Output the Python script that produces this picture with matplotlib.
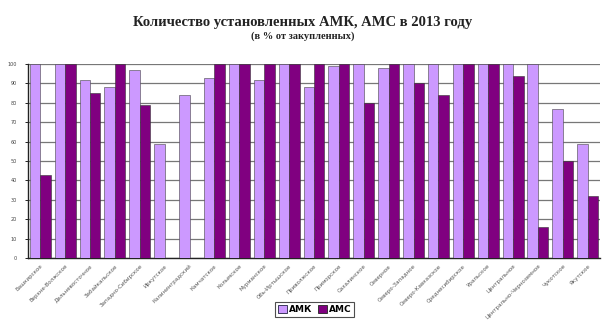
import numpy as np
import matplotlib
matplotlib.use("Agg")
import matplotlib.pyplot as plt
from matplotlib.patches import Patch

regions = ["Башкирское", "Верхне-Волжское", "Дальневосточное", "Забайкальское",
           "Западно-Сибирское", "Иркутское", "Калининградский", "Камчатское",
           "Колымское", "Мурманское", "Обь-Иртышское", "Приволжское", "Приморское",
           "Сахалинское", "Северное", "Северо-Западное", "Северо-Кавказское",
           "Среднесибирское", "Уральское", "Центральное", "Центрально-Черноземное",
           "Чукотское", "Якутское"]
amk = [100, 100, 92, 88, 97, 59, 84, 93, 100, 92, 100, 88, 99, 100, 98, 100,
       100, 100, 100, 100, 100, 77, 59]
ams = [43, 100, 85, 100, 79, 0, 0, 100, 100, 100, 100, 100, 100, 80, 100, 90,
       84, 100, 100, 94, 16, 50, 32]
yticks = [0, 10, 20, 30, 40, 50, 60, 70, 80, 90, 100]

light = "#CC99FF"
dark = "#800080"

fig = plt.figure(figsize=(6.05, 3.2), dpi=100)
ax = fig.add_axes([0.046, 0.194, 0.946, 0.606])

x = np.arange(len(regions))
w = 0.42
ax.bar(x - w / 2, amk, w, color=light, edgecolor="#444444", linewidth=0.4, zorder=3)
ax.bar(x + w / 2, ams, w, color=dark, edgecolor="#333333", linewidth=0.4, zorder=3)

ax.set_xlim(-0.5, len(regions) - 0.5)
ax.set_ylim(0, 100)
ax.set_yticks(yticks)
ax.set_yticklabels([str(v) for v in yticks], fontsize=3.5, color="#444444")
ax.yaxis.grid(True, color="#777777", linewidth=0.9, zorder=0)
ax.set_axisbelow(True)

ax.set_xticks(x)
ax.set_xticklabels(regions, rotation=45, ha="right", rotation_mode="anchor",
                   fontsize=4, color="#555555", family="DejaVu Sans")
ax.tick_params(axis="x", length=0, pad=4)
ax.tick_params(axis="y", length=2, width=0.6, pad=6)

for s in ["top", "right"]:
    ax.spines[s].set_visible(False)
ax.spines["left"].set_color("#222222")
ax.spines["bottom"].set_color("#222222")
ax.spines["left"].set_linewidth(1.0)
ax.spines["bottom"].set_linewidth(1.0)

fig.text(0.5, 0.93, "Количество установленных АМК, АМС в 2013 году",
         ha="center", va="center", fontsize=10.5, fontweight="bold",
         family="Liberation Serif", color="#222222")
fig.text(0.5, 0.888, "(в % от закупленных)", ha="center", va="center",
         fontsize=7.5, fontweight="bold", family="Liberation Serif", color="#222222")

handles = [Patch(facecolor=light, edgecolor="#222244", linewidth=0.6, label="АМК"),
           Patch(facecolor=dark, edgecolor="#222222", linewidth=0.6, label="АМС")]
leg = fig.legend(handles=handles, loc="center", bbox_to_anchor=(0.52, 0.032),
                 ncol=2, frameon=True, fancybox=False,
                 handlelength=1.0, handleheight=1.0, handletextpad=0.25,
                 columnspacing=0.6, borderpad=0.3, prop={"weight": "bold", "size": 6.5})
leg.get_frame().set_edgecolor("#222222")
leg.get_frame().set_linewidth(0.8)

fig.savefig("out.png", dpi=100)
